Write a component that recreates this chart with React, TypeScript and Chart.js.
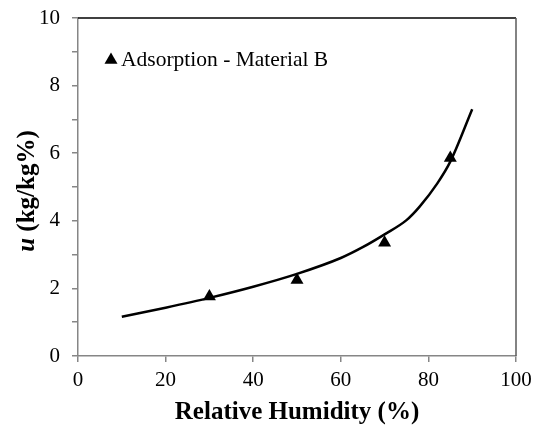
import React, { useEffect, useRef } from "react";
import { Chart, registerables } from "chart.js";

Chart.register(...registerables);

const fitX = [10, 20, 30, 40, 50, 60, 65, 70, 75, 78, 82, 85, 90];
const fitU = [1.16, 1.43, 1.72, 2.05, 2.43, 2.9, 3.22, 3.6, 4.02, 4.42, 5.1, 5.75, 7.3];
const measRH = [30, 50, 70, 85];
const measU = [1.76, 2.25, 3.35, 5.86];
const seriesLabel = "Adsorption - Material B";
const xTitle = "Relative Humidity (%)";
const yTitleVar = "u";
const yTitleUnit = " (kg/kg%)";

const SERIF = '"Liberation Serif", "Times New Roman", serif';

const decorPlugin = {
  id: "decor",
  afterDraw(chart: any) {
    const { ctx, chartArea } = chart;
    const { left, right, top, bottom } = chartArea;
    ctx.save();
    // top and right borders
    ctx.lineWidth = 1.5;
    ctx.strokeStyle = "#000000";
    ctx.beginPath();
    ctx.moveTo(left, top);
    ctx.lineTo(right, top);
    ctx.stroke();
    ctx.strokeStyle = "#5a5a5a";
    ctx.beginPath();
    ctx.moveTo(right, top);
    ctx.lineTo(right, bottom);
    ctx.stroke();

    // x title
    ctx.fillStyle = "#000";
    ctx.font = `bold 25px ${SERIF}`;
    ctx.textAlign = "center";
    ctx.textBaseline = "middle";
    ctx.fillText(xTitle, (left + right) / 2, 413);

    // y title (mixed style)
    ctx.translate(28, (top + bottom) / 2 + 4);
    ctx.rotate(-Math.PI / 2);
    const f1 = `italic bold 25px ${SERIF}`;
    const f2 = `bold 25px ${SERIF}`;
    ctx.font = f1;
    const w1 = ctx.measureText(yTitleVar).width;
    ctx.font = f2;
    const w2 = ctx.measureText(yTitleUnit).width;
    const x0 = -(w1 + w2) / 2;
    ctx.textAlign = "left";
    ctx.font = f1;
    ctx.fillText(yTitleVar, x0, 0);
    ctx.font = f2;
    ctx.fillText(yTitleUnit, x0 + w1, 0);
    ctx.restore();

    // legend inside plot
    ctx.save();
    const lx = 111;
    const ly = 60;
    const r = 7.5;
    ctx.fillStyle = "#000";
    ctx.beginPath();
    ctx.moveTo(lx, ly - r);
    ctx.lineTo(lx + r * 0.866, ly + r / 2);
    ctx.lineTo(lx - r * 0.866, ly + r / 2);
    ctx.closePath();
    ctx.fill();
    ctx.font = `21.5px ${SERIF}`;
    ctx.textAlign = "left";
    ctx.textBaseline = "middle";
    ctx.fillText(chart.data.datasets[1].label, 121, ly);
    ctx.restore();
  },
};

export default function App() {
  const ref = useRef<HTMLCanvasElement | null>(null);
  useEffect(() => {
    document.body.style.margin = "0";
    const canvas = ref.current!;
    const chart = new Chart(canvas, {
      type: "scatter",
      data: {
        datasets: [
          {
            label: "fit",
            data: fitX.map((x, i) => ({ x, y: fitU[i] })),
            showLine: true,
            borderColor: "#000",
            borderWidth: 2.5,
            pointRadius: 0,
            cubicInterpolationMode: "monotone",
            fill: false,
          } as any,
          {
            label: seriesLabel,
            data: measRH.map((x, i) => ({ x, y: measU[i] })),
            pointStyle: "triangle",
            pointRadius: 7.5,
            backgroundColor: "#000",
            borderColor: "#000",
            borderWidth: 0,
            showLine: false,
          } as any,
        ],
      },
      options: {
        responsive: false,
        animation: false,
        layout: { padding: { top: 18, right: 19, left: 0, bottom: 0 } },
        plugins: {
          legend: { display: false },
          tooltip: { enabled: false },
        },
        scales: {
          x: {
            type: "linear",
            min: 0,
            max: 100,
            ticks: {
              stepSize: 20,
              color: "#000",
              font: { family: SERIF, size: 21 },
              padding: 6,
              maxRotation: 0,
            },
            grid: {
              drawOnChartArea: false,
              drawTicks: true,
              tickLength: 6,
              color: "#868686",
              lineWidth: 1.5,
            },
            border: { color: "#868686", width: 1.5 },
            afterFit(scale: any) {
              scale.height = 69;
              scale.paddingLeft = 0;
              scale.paddingRight = 0;
            },
          },
          y: {
            type: "linear",
            min: 0,
            max: 10,
            ticks: {
              stepSize: 1,
              color: "#000",
              font: { family: SERIF, size: 21 },
              padding: 12,
              callback: (v: any) => (Number(v) % 2 === 0 ? String(v) : ""),
            },
            grid: {
              drawOnChartArea: false,
              drawTicks: true,
              tickLength: 6,
              color: "#868686",
              lineWidth: 1.5,
            },
            border: { color: "#868686", width: 1.5 },
            afterFit(scale: any) {
              scale.width = 78;
              scale.paddingTop = 0;
              scale.paddingBottom = 0;
            },
          },
        },
      },
      plugins: [decorPlugin],
    });
    return () => chart.destroy();
  }, []);
  return (
    <div style={{ position: "fixed", left: 0, top: 0, width: 535, height: 425, background: "#fff" }}>
      <canvas ref={ref} width={535} height={425} />
    </div>
  );
}
